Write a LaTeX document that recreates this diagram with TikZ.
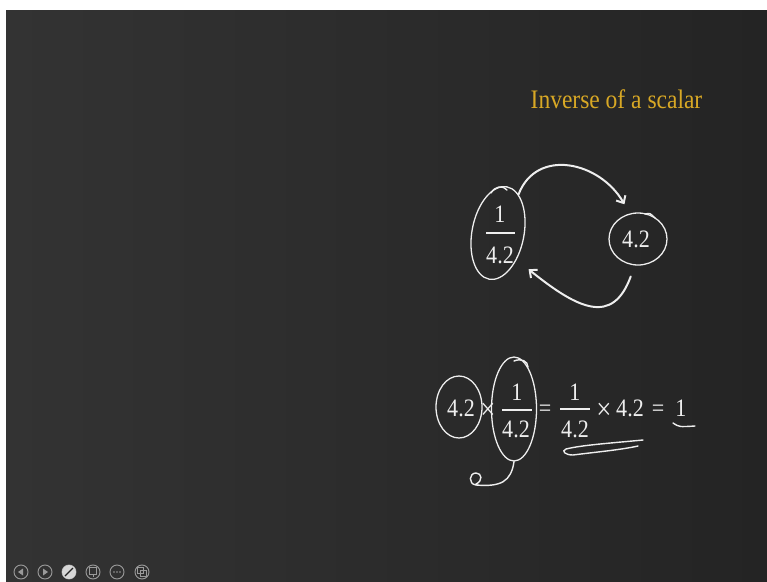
\documentclass[tikz,border=0pt]{standalone}
\usepackage{fontspec}
\newfontfamily\chalkfont[FakeStretch=0.88]{Liberation Serif}
\usetikzlibrary{shapes.geometric,arrows.meta}
\definecolor{boardlight}{HTML}{333333}
\definecolor{boarddark}{HTML}{242424}
\definecolor{chalkwhite}{HTML}{EEEEEE}
\definecolor{gold}{HTML}{D8A825}
\definecolor{icongray}{HTML}{9A9A9A}
\begin{document}
\begin{tikzpicture}[x=0.03cm,y=-0.03cm,
	chalk/.style={draw=chalkwhite,line width=1.2pt,line cap=round},
	fracbar/.style={draw=chalkwhite,line width=1.6pt},
	ring/.style={ellipse,draw=chalkwhite,line width=1.1pt,inner sep=0pt},
	txt/.style={text=chalkwhite,font=\chalkfont\fontsize{21.4}{24}\selectfont,inner sep=0pt,anchor=base},
	optxt/.style={txt,font=\chalkfont\fontsize{26}{30}\selectfont},
	titletxt/.style={text=gold,font=\chalkfont\fontsize{22.8}{26}\selectfont,inner sep=0pt,anchor=base},
	swap/.style={chalk,line width=1.7pt,-{Straight Barb[length=5pt,width=9pt]}}]
		\useasboundingbox (0,0) rectangle (767,581);
		\fill[white] (0,0) rectangle (767,581);
		\shade[left color=boardlight,right color=boarddark] (6,10) rectangle (767,581);
		\node[titletxt] (title) at (616.5,108) {Inverse of a scalar};
		\node[ring,minimum width=1.56cm,minimum height=2.82cm,rotate=-11] (invring) at (498,233) {};
		\node[txt] (inum) at (500,222) {1};
		\node[txt] (iden) at (500,263) {4.2};
		\draw[fracbar] (486,233) -- (515,233);
		\draw[chalk] (491,193) .. controls (495,186) and (503,185) .. (507,190);
		\node[ring,minimum width=1.74cm,minimum height=1.56cm] (valring) at (638,239) {};
		\node[txt] (val) at (636,247) {4.2};
		\draw[chalk] (645,214) .. controls (650,213) .. (655,218);
		\draw[swap,shorten >=9pt] (invring.73) .. controls +(18,-47) and +(-30,-52) .. (valring.108);
		\draw[swap,shorten <=10pt,shorten >=13pt] (valring.263) .. controls +(-22,60) and +(62,50) .. (invring.-44);
		\node[ring,minimum width=1.38cm,minimum height=1.86cm] (aring) at (459,407) {};
		\node[txt] (a42) at (461,416) {4.2};
		\node[optxt] (times1) at (488,419) {×};
		\node[ring,minimum width=1.35cm,minimum height=3.12cm] (fring) at (514,409) {};
		\node[txt] (f1num) at (517,400) {1};
		\node[txt] (f1den) at (516,437) {4.2};
		\draw[fracbar] (502,410) -- (532,410);
		\draw[chalk] (514,361) .. controls (521,358) and (528,361) .. (528,367);
		\node[txt] (eq1) at (545,416) {=};
		\node[txt] (f2num) at (575,400) {1};
		\node[txt] (f2den) at (575,437) {4.2};
		\draw[fracbar] (560,409) -- (590,409);
		\node[optxt] (times2) at (604,419) {×};
		\node[txt] (b42) at (630,416) {4.2};
		\node[txt] (eq2) at (658,416) {=};
		\node[txt] (one) at (681,416) {1};
		\coordinate (tail) at (476,485);
		\draw[chalk] (fring.south) .. controls +(-3,20) and +(25,2) .. (tail) .. controls (468,484) and (469,473) .. (476,473) .. controls (482,473) and (483,481) .. (476,484);
		\draw[chalk] (673,423) .. controls (679,427) .. (695,426);
		\draw[chalk] (643,440) .. controls (612,443) and (582,445) .. (566,449) .. controls (561,451) and (565,455) .. (573,455) .. controls (596,452) and (620,450) .. (638,446);
		\foreach \ix in {21,45,69,93,117,142}
			\draw[icongray,line width=0.8pt] (\ix,572) circle[radius=7];
		\fill[icongray] (18,572) -- (23,568.5) -- (23,575.5) -- cycle;
		\fill[icongray] (48,572) -- (43,568.5) -- (43,575.5) -- cycle;
		\fill[icongray!40!white] (69,572) circle[radius=7];
		\draw[boarddark,line width=1pt] (65,576) -- (73,568);
		\draw[icongray,line width=0.7pt] (89.5,567.5) rectangle (96.5,574.5);
		\draw[icongray,line width=0.7pt] (93,574.5) -- (93,577);
		\foreach \dx in {-3,0,3}
			\fill[icongray] (117+\dx,572) circle[radius=0.9];
		\draw[icongray,line width=0.7pt] (137.5,567) rectangle (143.5,573);
		\draw[icongray,line width=0.7pt] (140.5,570) rectangle (146,576);
\end{tikzpicture}
\end{document}
